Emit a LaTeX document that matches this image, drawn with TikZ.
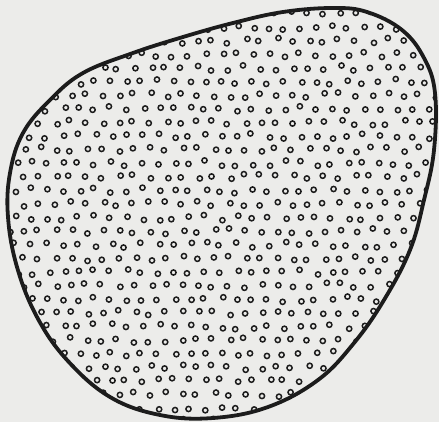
\documentclass[tikz,border=0pt]{standalone}
\definecolor{paper}{RGB}{236,236,234}
\definecolor{ink}{RGB}{28,28,28}
\tikzset{
  outline/.style={draw=ink, line width=3.8pt, line join=round},
  dotring/.style={draw=ink, line width=1.5pt},
}
\newcommand\eggshape{plot[smooth cycle, tension=0.65] coordinates {
 (333,8) (367,12) (402,30) (424,58) (435,93) (434,150) (424,200) (410,250)
 (384,300) (354,343) (318,380) (268,407) (213,418) (160,415) (110,397)
 (67,360) (37,317) (17,267) (8,217) (10,173) (23,133) (50,100) (83,73)
 (133,53) (183,37) (233,23) (283,12)}}
\begin{document}
\begin{tikzpicture}[x=1pt,y=-1pt]
\fill[paper] (0,0) rectangle (439,422);
\useasboundingbox (0,0) rectangle (439,422);
\pgfmathsetseed{7}
\begin{scope}
\path[clip] \eggshape;
\foreach \r in {0,...,31}{
  \foreach \c in {0,...,28}{
    \pgfmathsetmacro\xx{\c*15.8 + mod(\r,2)*7.9 + 3*rand}
    \pgfmathsetmacro\yy{\r*13.6 + 2.8*rand}
    \draw[dotring] (\xx,\yy) circle[radius=2.6pt];
  }
}
\end{scope}
\draw[outline] \eggshape;
\end{tikzpicture}
\end{document}
